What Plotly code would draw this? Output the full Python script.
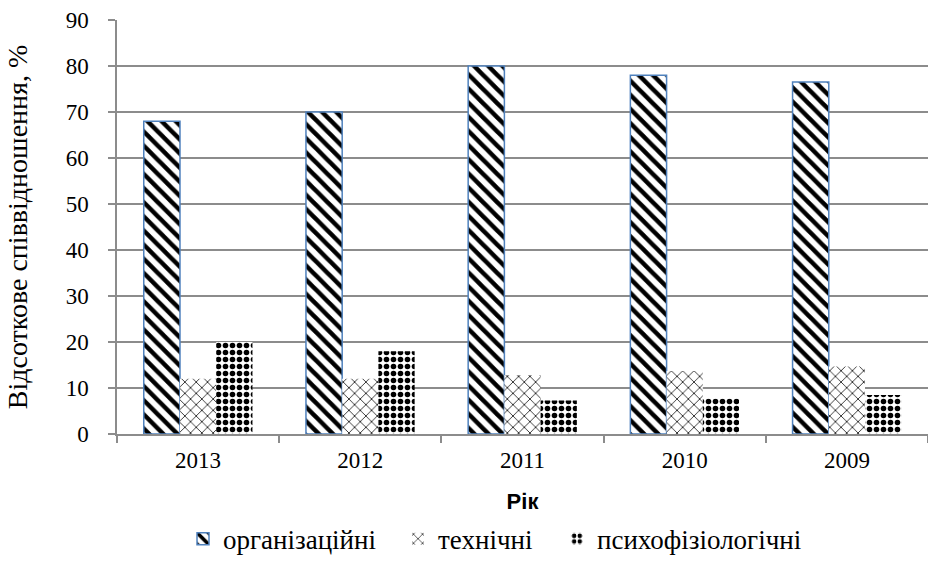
import plotly.graph_objects as go

years = ["2013", "2012", "2011", "2010", "2009"]
org = [68, 70, 80, 78, 76.5]
tech = [12, 12, 12.8, 13.7, 14.7]
psych = [20, 18, 7.3, 7.7, 8.5]
names = ["організаційні", "технічні", "психофізіологічні"]
y_ticks = [0, 10, 20, 30, 40, 50, 60, 70, 80, 90]

serif = "Liberation Serif"
grid = "#8c8c8c"

fig = go.Figure()
fig.add_trace(go.Bar(
    x=years, y=org, name=names[0], legend="legend",
    marker=dict(color="white", line=dict(color="#4f81bd", width=1.5),
                pattern=dict(shape="\\", fgcolor="black", bgcolor="white",
                             size=10, solidity=0.45, fillmode="replace")),
))
fig.add_trace(go.Bar(
    x=years, y=tech, name=names[1], legend="legend2",
    marker=dict(color="white", line=dict(width=0),
                pattern=dict(shape="x", fgcolor="black", bgcolor="white",
                             size=8, solidity=0.18, fillmode="replace")),
))
fig.add_trace(go.Bar(
    x=years, y=psych, name=names[2], legend="legend3",
    marker=dict(color="white", line=dict(width=0),
                pattern=dict(shape=".", fgcolor="black", bgcolor="white",
                             size=7, solidity=0.5, fillmode="replace")),
))

leg_common = dict(orientation="h", y=-0.254, yanchor="middle", xanchor="left",
                  font=dict(family=serif, size=27, color="black"),
                  bgcolor="rgba(0,0,0,0)", borderwidth=0)

fig.update_layout(
    width=928, height=564,
    margin=dict(l=117, r=0, t=20, b=115),
    paper_bgcolor="white", plot_bgcolor="white",
    barmode="group", bargap=0.33, bargroupgap=0,
    font=dict(family=serif, size=23, color="black"),
    showlegend=True,
    legend=dict(x=0.0814, **leg_common),
    legend2=dict(x=0.3465, **leg_common),
    legend3=dict(x=0.5425, **leg_common),
    xaxis=dict(
        type="category", categoryorder="array", categoryarray=years,
        showline=True, linecolor=grid, linewidth=1.5,
        ticks="outside", tickson="boundaries", ticklen=7, tickcolor=grid, tickwidth=1.5,
        showgrid=False, automargin=False,
        tickfont=dict(family=serif, size=23),
        ticklabelstandoff=5, ticklabeloverflow="allow",
        title=dict(text="<b>Рік</b>", font=dict(family="Liberation Sans", size=22),
                   standoff=21),
    ),
    yaxis=dict(
        range=[0, 90], tickvals=y_ticks,
        showline=True, linecolor=grid, linewidth=1.5,
        ticks="outside", ticklen=7, tickcolor=grid, tickwidth=1.5,
        showgrid=True, gridcolor=grid, gridwidth=1.5,
        zeroline=False, automargin=False,
        tickfont=dict(family=serif, size=23),
        ticklabelstandoff=15, ticklabeloverflow="allow",
        title=dict(text="Відсоткове співвідношення, %", font=dict(family=serif, size=28),
                   standoff=30),
    ),
)

fig.write_html("out.html", config={"displayModeBar": False},
               post_script="document.body.style.margin='0';")
